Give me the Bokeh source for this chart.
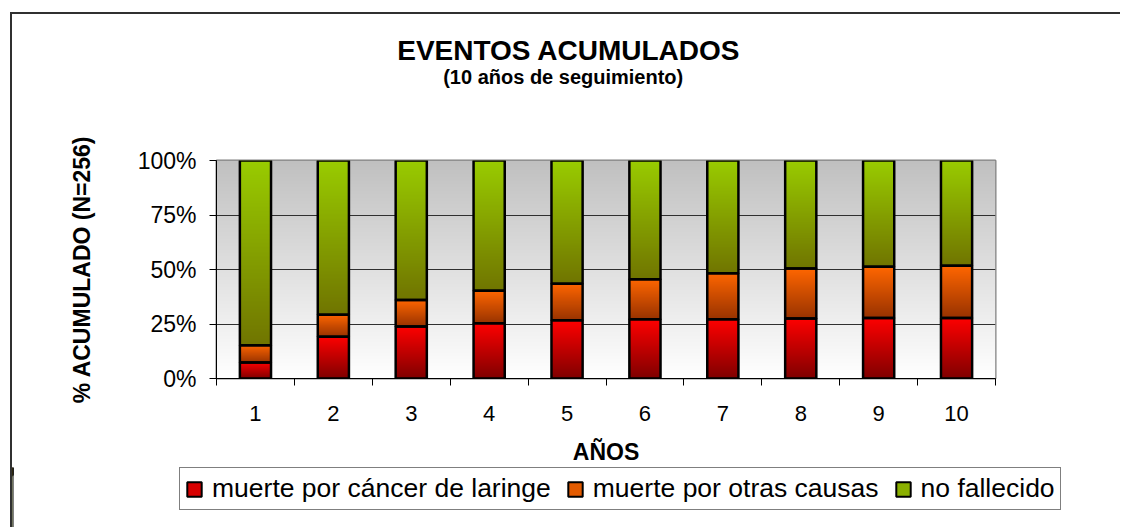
import numpy as np
from bokeh.plotting import figure
from bokeh.layouts import column
from bokeh.models import (FixedTicker, Legend, LegendItem, Label,
                          ColumnDataSource, Range1d)
from bokeh.embed import file_html
from bokeh.resources import INLINE

# ---------------- data ----------------
title_text = "EVENTOS ACUMULADOS"
subtitle_text = "(10 años de seguimiento)"
x_label = "AÑOS"
y_label = "% ACUMULADO (N=256)"

years = [1, 2, 3, 4, 5, 6, 7, 8, 9, 10]
y_ticks = [0, 25, 50, 75, 100]
y_tick_labels = ["0%", "25%", "50%", "75%", "100%"]

series_names = ["muerte por cáncer de laringe", "muerte por otras causas", "no fallecido"]
cancer_laringe = [7.3, 19.2, 23.8, 25.4, 26.7, 27.2, 27.2, 27.5, 27.8, 27.8]
otras_causas = [8.0, 10.0, 12.2, 14.8, 16.8, 18.3, 21.1, 23.0, 23.5, 23.9]
no_fallecido = [84.7, 70.8, 64.0, 59.8, 56.5, 54.5, 51.7, 49.5, 48.7, 48.3]

# ---------------- style ----------------
FONT = "Liberation Sans"
BAR_W = 0.4
grad_top = ["#FF0000", "#FF6600", "#99CC00"]
grad_bottom = ["#800000", "#993300", "#707500"]
legend_fill = ["#D80000", "#E35B00", "#8BB000"]

W = 1108            # canvas width
TOP_H = 111         # title strip height
LEG_H = 60          # legend strip height
ML, FW, MR = 204, 779, 125
FH, MB_TOP, MB_BOT = 218, 35, 86


def hex_rgb(h):
    h = h.lstrip("#")
    return np.array([int(h[i:i + 2], 16) for i in (0, 2, 4)], dtype=float)


def vgrad(top_hex, bottom_hex, n=200, cols=4):
    t = np.linspace(0.0, 1.0, n)[:, None]
    c = hex_rgb(bottom_hex) + (hex_rgb(top_hex) - hex_rgb(bottom_hex)) * t
    img = np.empty((n, cols), dtype=np.uint32)
    v = img.view(dtype=np.uint8).reshape((n, cols, 4))
    v[:, :, 0:3] = np.round(c).astype(np.uint8)[:, None, :]
    v[:, :, 3] = 255
    return img


def blank_fig(h):
    f = figure(width=W, height=h, x_range=Range1d(0, W), y_range=Range1d(h, 0),
               x_axis_type=None, y_axis_type=None, output_backend="svg",
               toolbar_location=None, min_border=0, title=None)
    f.frame_align = False
    f.outline_line_color = None
    f.background_fill_color = "white"
    f.border_fill_color = "white"
    f.xgrid.visible = False
    f.ygrid.visible = False
    return f


# ---------------- title strip ----------------
f_top = blank_fig(TOP_H)
f_top.add_layout(Label(x=384.7, y=36.3, text=title_text, text_align="left",
                       text_baseline="alphabetic", text_font=FONT,
                       text_font_style="bold", text_font_size="28px", text_color="black"))
f_top.add_layout(Label(x=430.7, y=62.7, text=subtitle_text, text_align="left",
                       text_baseline="alphabetic", text_font=FONT,
                       text_font_style="bold", text_font_size="20px", text_color="black"))

# ---------------- chart ----------------
x0, x1 = years[0] - 0.5, years[-1] + 0.5
p = figure(frame_width=FW, frame_height=FH, x_range=Range1d(x0, x1),
           y_range=Range1d(0, 100), title=None,
           output_backend="svg", toolbar_location=None,
           min_border_left=ML, min_border_right=MR,
           min_border_top=MB_TOP, min_border_bottom=MB_BOT)
p.frame_align = False
p.background_fill_color = "white"
p.border_fill_color = "white"
p.outline_line_color = "#808080"
p.outline_line_width = 2

p.image_rgba(image=[vgrad("#C0C0C0", "#FFFFFF", n=256)], x=x0, y=0,
             dw=x1 - x0, dh=100, level="image")

series = [cancer_laringe, otras_causas, no_fallecido]
stack = np.cumsum(np.array(series), axis=0)
imgs, xs, ys, dws, dhs = [], [], [], [], []
ox, ob, ot = [], [], []
for k, s in enumerate(series):
    tops = stack[k]
    bots = tops - np.array(s)
    for yr, b, t in zip(years, bots, tops):
        imgs.append(vgrad(grad_top[k], grad_bottom[k], n=128))
        xs.append(yr - BAR_W / 2)
        ys.append(b)
        dws.append(BAR_W)
        dhs.append(t - b)
        ox.append(yr)
        ob.append(b)
        ot.append(t)

p.image_rgba(source=ColumnDataSource(dict(image=imgs, x=xs, y=ys, dw=dws, dh=dhs)),
             image="image", x="x", y="y", dw="dw", dh="dh")
p.vbar(x=ox, bottom=ob, top=ot, width=BAR_W, fill_alpha=0,
       line_color="black", line_width=2.5)

boundaries = [y - 0.5 for y in years] + [years[-1] + 0.5]
p.xaxis.ticker = FixedTicker(ticks=years, minor_ticks=boundaries)
p.xaxis.major_tick_out = 0
p.xaxis.major_tick_in = 0
p.xaxis.minor_tick_out = 7
p.xaxis.minor_tick_in = 0
p.xaxis.minor_tick_line_color = "black"
p.xaxis.major_label_text_font = FONT
p.xaxis.major_label_text_font_size = "22px"
p.xaxis.major_label_text_color = "black"
p.xaxis.major_label_standoff = 20
p.xaxis.axis_line_color = "black"
p.xaxis.axis_label = x_label
p.xaxis.axis_label_text_font = FONT
p.xaxis.axis_label_text_font_style = "bold"
p.xaxis.axis_label_text_font_size = "23px"
p.xaxis.axis_label_text_color = "black"
p.xaxis.axis_label_standoff = 15

p.yaxis.ticker = FixedTicker(ticks=y_ticks)
p.yaxis.major_label_overrides = dict(zip(y_ticks, y_tick_labels))
p.yaxis.major_tick_out = 7
p.yaxis.major_tick_in = 0
p.yaxis.minor_tick_line_color = None
p.yaxis.major_tick_line_color = "black"
p.yaxis.major_label_text_font = FONT
p.yaxis.major_label_text_font_size = "23px"
p.yaxis.major_label_text_color = "black"
p.yaxis.major_label_standoff = 13
p.yaxis.axis_line_color = "black"
p.yaxis.axis_label = y_label
p.yaxis.axis_label_text_font = FONT
p.yaxis.axis_label_text_font_style = "bold"
p.yaxis.axis_label_text_font_size = "23px"
p.yaxis.axis_label_text_color = "black"
p.yaxis.axis_label_standoff = 40

p.xgrid.grid_line_color = None
p.ygrid.ticker = FixedTicker(ticks=y_ticks[1:-1])
p.ygrid.grid_line_color = "#303030"
p.ygrid.grid_line_width = 1

# ---------------- legend strip ----------------
f_leg = blank_fig(LEG_H)
items = []
for k, name in enumerate(series_names):
    # one proxy bar per series, kept outside the visible range; only its legend swatch shows
    r = f_leg.vbar(x=[-10 * W], top=[series[k][0]], width=BAR_W,
                   fill_color=legend_fill[k], line_color="black", line_width=2)
    items.append(LegendItem(label=name, renderers=[r]))
legend = Legend(items=items, location=(167, 17), orientation="horizontal",
                glyph_width=18, glyph_height=18, label_standoff=9, spacing=15,
                padding=5, margin=0, border_line_color="black", border_line_width=1,
                label_text_font=FONT, label_text_font_size="26.5px",
                label_text_color="black", background_fill_color="white",
                background_fill_alpha=1)
f_leg.add_layout(legend, "center")

layout = column(f_top, p, f_leg, spacing=0, margin=(12, 0, 0, 10),
                styles={"border-top": "2px solid #303030",
                        "border-left": "2px solid #303030"})

open("out.html", "w").write(file_html(layout, INLINE))
